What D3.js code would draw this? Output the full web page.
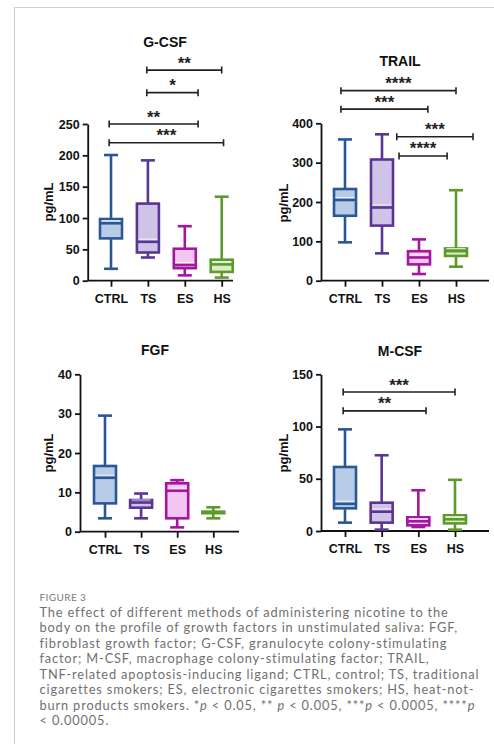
<!DOCTYPE html>
<html>
<head>
<meta charset="utf-8">
<script src="https://cdn.jsdelivr.net/npm/d3@7"></script>
<style>
  body { margin: 0; background: #fff; }
  svg { display: block; }
</style>
</head>
<body>
<div id="chart"></div>
<script>
// groups on every panel
const groups = ["CTRL", "TS", "ES", "HS"];

// box stats per group: [min, q1, median, q3, max]
const gcsfStats = [[19, 67.5, 91.6, 98.4, 200.5], [37, 45, 62, 123, 192], [8.5, 20, 25, 51, 87], [5, 14, 26, 33.5, 134]];
const trailStats = [[97.5, 165, 205, 233, 359], [69.5, 140, 186, 308, 372], [17, 41.5, 59, 75, 105], [35.6, 63, 75, 82, 230]];
const fgfStats = [[3.4, 7.2, 13.7, 16.7, 29.5], [3.4, 6.1, 7.4, 8.05, 9.7], [1.1, 3.4, 10.4, 12.3, 13.1], [3.4, 4.7, 4.9, 5.1, 6.2]];
const mcsfStats = [[8, 21.7, 26, 61.3, 97.3], [1.3, 8, 18.5, 27.1, 72.5], [3.8, 5.4, 9.3, 13.1, 39], [1.3, 7.3, 11.2, 15, 49]];

// y tick labels
const gcsfTicks = [0, 50, 100, 150, 200, 250];
const trailTicks = [0, 100, 200, 300, 400];
const fgfTicks = [0, 10, 20, 30, 40];
const mcsfTicks = [0, 50, 100, 150];

// significance brackets: [from group index, to group index, y value, stars]
const gcsfBrackets = [[0.97, 3.0, 336, "**"], [0.97, 2.36, 300, "*"], [-0.05, 2.36, 250, "**"], [-0.05, 3.05, 220, "***"]];
const trailBrackets = [[-0.11, 3.0, 483, "****"], [-0.11, 2.24, 436, "***"], [1.4, 3.46, 366, "***"], [1.46, 2.76, 317, "****"]];
const fgfBrackets = [];
const mcsfBrackets = [[-0.05, 3.0, 133, "***"], [-0.05, 2.21, 115, "**"]];

const strokeColors = ["#2b5797", "#5a3594", "#a3179e", "#5c9a2c"];
const fillColors = ["#b7cce6", "#d0c3e8", "#f2c6f0", "#dcecc4"];

const captionLines = [
    "The effect of different methods of administering nicotine to the",
    "body on the profile of growth factors in unstimulated saliva: FGF,",
    "fibroblast growth factor; G-CSF, granulocyte colony-stimulating",
    "factor; M-CSF, macrophage colony-stimulating factor; TRAIL,",
    "TNF-related apoptosis-inducing ligand; CTRL, control; TS, traditional",
    "cigarettes smokers; ES, electronic cigarettes smokers; HS, heat-not-",
    null, // built with italic p below
    "< 0.00005."
];

const width = 494;
const height = 744;
const font = "'Liberation Sans', Arial, Helvetica, sans-serif";

const svg = d3.select("#chart")
    .append("svg")
    .attr("width", width)
    .attr("height", height);

// light frame on top and left
svg.append("path")
    .attr("d", `M${width},7.5H14.5V${height}`)
    .attr("fill", "none")
    .attr("stroke", "#d0d0d0")
    .attr("stroke-width", 1.2);

const panels = [
    { title: "G-CSF", stats: gcsfStats, ticks: gcsfTicks, brackets: gcsfBrackets,
      axisX: 87.7, y0: 280.7, yTop: 124, xFirst: 111, xLast: 221.7, xEnd: 233,
      labelX: 48, labelY: 202, titleX: 165, titleY: 42 },
    { title: "TRAIL", stats: trailStats, ticks: trailTicks, brackets: trailBrackets,
      axisX: 321, y0: 280.7, yTop: 123.3, xFirst: 345, xLast: 456, xEnd: 489,
      labelX: 283, labelY: 203, titleX: 400, titleY: 61 },
    { title: "FGF", stats: fgfStats, ticks: fgfTicks, brackets: fgfBrackets,
      axisX: 80, y0: 531.7, yTop: 374.3, xFirst: 105, xLast: 213.3, xEnd: 239,
      labelX: 48, labelY: 453, titleX: 155, titleY: 350 },
    { title: "M-CSF", stats: mcsfStats, ticks: mcsfTicks, brackets: mcsfBrackets,
      axisX: 321, y0: 531, yTop: 374.3, xFirst: 345, xLast: 455, xEnd: 489,
      labelX: 283, labelY: 453, titleX: 400, titleY: 351 }
];

panels.forEach(drawPanel);

function drawPanel(p) {
    const g = svg.append("g");
    const maxTick = p.ticks[p.ticks.length - 1];

    const y = d3.scaleLinear().domain([0, maxTick]).range([p.y0, p.yTop]);
    const x = d3.scalePoint().domain(groups).range([p.xFirst, p.xLast]);
    // fractional group index -> pixel, for bracket ends
    const xi = d3.scaleLinear().domain([0, groups.length - 1]).range([p.xFirst, p.xLast]);

    // title
    g.append("text")
        .attr("x", p.titleX)
        .attr("y", p.titleY)
        .attr("dy", "0.35em")
        .attr("text-anchor", "middle")
        .attr("font-family", font)
        .attr("font-weight", "bold")
        .attr("font-size", "14px")
        .attr("fill", "#111")
        .text(p.title);

    // y label
    g.append("text")
        .attr("transform", `translate(${p.labelX},${p.labelY}) rotate(-90)`)
        .attr("dy", "0.35em")
        .attr("text-anchor", "middle")
        .attr("font-family", font)
        .attr("font-weight", "bold")
        .attr("font-size", "13px")
        .attr("fill", "#111")
        .text("pg/mL");

    // y axis
    const yAxis = g.append("g")
        .attr("transform", `translate(${p.axisX},0)`)
        .call(d3.axisLeft(y).tickValues(p.ticks).tickSize(5).tickSizeOuter(0).tickPadding(3));

    // x axis
    const xAxis = g.append("g")
        .attr("transform", `translate(0,${p.y0})`)
        .call(d3.axisBottom(x).tickSize(6).tickSizeOuter(0).tickPadding(7));
    xAxis.select(".domain").attr("d", `M${p.axisX},0H${p.xEnd}`);

    [yAxis, xAxis].forEach(a => {
        a.select(".domain").attr("stroke", "#111").attr("stroke-width", 1.8);
        a.selectAll(".tick line").attr("stroke", "#111").attr("stroke-width", 1.8);
        a.selectAll(".tick text")
            .attr("font-family", font)
            .attr("font-weight", "bold")
            .attr("font-size", "12.5px")
            .attr("fill", "#111");
    });

    // boxes
    const boxW = 22;
    const capW = 14;
    const box = g.selectAll(".box")
        .data(p.stats)
        .enter().append("g")
        .attr("class", "box");

    box.append("line")
        .attr("x1", (d, i) => x(groups[i]))
        .attr("x2", (d, i) => x(groups[i]))
        .attr("y1", d => y(d[0]))
        .attr("y2", d => y(d[4]))
        .attr("stroke", (d, i) => strokeColors[i])
        .attr("stroke-width", 2.6);

    box.selectAll(".cap")
        .data((d, i) => [[d[0], i], [d[4], i]])
        .enter().append("line")
        .attr("x1", d => x(groups[d[1]]) - capW / 2)
        .attr("x2", d => x(groups[d[1]]) + capW / 2)
        .attr("y1", d => y(d[0]))
        .attr("y2", d => y(d[0]))
        .attr("stroke", d => strokeColors[d[1]])
        .attr("stroke-width", 2.6);

    box.append("rect")
        .attr("x", (d, i) => x(groups[i]) - boxW / 2)
        .attr("width", boxW)
        .attr("y", d => y(d[3]))
        .attr("height", d => Math.max(0.5, y(d[1]) - y(d[3])))
        .attr("fill", (d, i) => fillColors[i])
        .attr("stroke", (d, i) => strokeColors[i])
        .attr("stroke-width", 2.6);

    // faint highlight just above the median, as in the source render
    box.append("line")
        .attr("x1", (d, i) => x(groups[i]) - boxW / 2 + 1.5)
        .attr("x2", (d, i) => x(groups[i]) + boxW / 2 - 1.5)
        .attr("y1", d => y(d[2]) - 2.6)
        .attr("y2", d => y(d[2]) - 2.6)
        .attr("stroke", "#fff")
        .attr("stroke-opacity", d => (y(d[1]) - y(d[3]) > 6 ? 0.8 : 0))
        .attr("stroke-width", 1);

    box.append("line")
        .attr("x1", (d, i) => x(groups[i]) - boxW / 2)
        .attr("x2", (d, i) => x(groups[i]) + boxW / 2)
        .attr("y1", d => y(d[2]))
        .attr("y2", d => y(d[2]))
        .attr("stroke", (d, i) => strokeColors[i])
        .attr("stroke-width", 2.6);

    // significance brackets
    const br = g.selectAll(".bracket")
        .data(p.brackets)
        .enter().append("g")
        .attr("class", "bracket");

    br.append("path")
        .attr("d", d => {
            const x1 = xi(d[0]), x2 = xi(d[1]), yy = y(d[2]);
            return `M${x1},${yy - 3.5}V${yy + 3.5}M${x1},${yy}H${x2}M${x2},${yy - 3.5}V${yy + 3.5}`;
        })
        .attr("fill", "none")
        .attr("stroke", "#222")
        .attr("stroke-width", 1.6);

    br.append("text")
        .attr("x", d => (xi(d[0]) + xi(d[1])) / 2)
        .attr("y", d => y(d[2]) - 1.5)
        .attr("text-anchor", "middle")
        .attr("font-family", font)
        .attr("font-weight", "bold")
        .attr("font-size", "17px")
        .attr("fill", "#222")
        .text(d => d[3]);
}

// caption
const cap = svg.append("g")
    .attr("font-family", "Lato, 'Open Sans', sans-serif")
    .attr("fill", "#707070");

cap.append("text")
    .attr("x", 39.5)
    .attr("y", 600.5)
    .attr("font-size", "10px")
    .attr("letter-spacing", "0.4px")
    .attr("fill", "#7a7a7a")
    .text("FIGURE 3");

const lineY = d3.scaleLinear().domain([0, 1]).range([616.5, 632]);

const capText = cap.selectAll(".cap-line")
    .data(captionLines)
    .enter().append("text")
    .attr("class", "cap-line")
    .attr("x", 39.5)
    .attr("y", (d, i) => lineY(i))
    .attr("font-size", "12.5px")
    .text(d => d || "");

// line 7 with italic p
const pLine = capText.filter((d, i) => i === 6);
const pParts = [
    ["burn products smokers. *", false], ["p", true], [" < 0.05, ** ", false], ["p", true],
    [" < 0.005, ***", false], ["p", true], [" < 0.0005, ****", false], ["p", true]
];
pLine.selectAll("tspan")
    .data(pParts)
    .enter().append("tspan")
    .attr("font-style", d => d[1] ? "italic" : null)
    .text(d => d[0]);

// spread letters so the widest line spans about 440px, keeping the size modest
const widest = capText.filter((d, i) => i === 4).node().getComputedTextLength();
const fitSize = Math.min(12.8, 12.5 * 440 / widest);
capText.attr("font-size", fitSize + "px");
const w2 = capText.filter((d, i) => i === 4).node().getComputedTextLength();
const chars = captionLines[4].length;
if (w2 < 440) capText.attr("letter-spacing", ((440 - w2) / chars) + "px");
</script>
</body>
</html>
